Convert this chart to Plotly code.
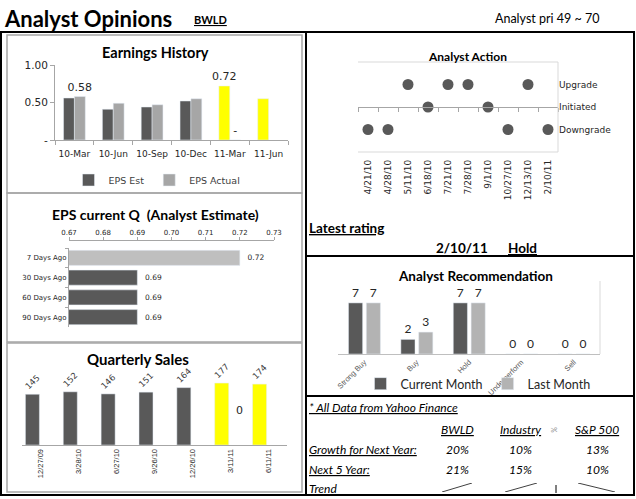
import plotly.graph_objects as go

W, H = 636, 499
def px(x): return x / W
def py(y): return 1 - y / H

# ---------------- data ----------------
eh_quarters = ['10-Mar', '10-Jun', '10-Sep', '10-Dec', '11-Mar', '11-Jun']
eh_est = [0.56, 0.41, 0.44, 0.52, 0.72, 0.55]
eh_actual = [0.58, 0.49, 0.47, 0.55, 0.0, None]
eh_forecast = [False, False, False, False, True, True]
eh_est_labels = ['', '', '', '', '0.72', '']
eh_actual_labels = ['0.58', '', '', '', '-', '']

epsq_periods = ['7 Days Ago', '30 Days Ago', '60 Days Ago', '90 Days Ago']
epsq_values = [0.72, 0.69, 0.69, 0.69]

qs_dates = ['12/27/09', '3/28/10', '6/27/10', '9/26/10', '12/26/10', '3/11/11', '6/11/11']
qs_sales = [145, 152, 146, 151, 164, 177, 174]
qs_forecast = [False, False, False, False, False, True, True]
qs_extra_label = '0'

aa_dates = ['4/21/10', '4/28/10', '5/11/10', '6/18/10', '7/21/10', '7/28/10',
            '9/1/10', '10/27/10', '12/13/10', '2/10/11']
aa_actions = ['Downgrade', 'Downgrade', 'Upgrade', 'Initiated', 'Upgrade', 'Upgrade',
              'Initiated', 'Downgrade', 'Upgrade', 'Downgrade']
aa_level_names = ['Upgrade', 'Initiated', 'Downgrade']
aa_level_values = [1, 0, -1]

rec_cats = ['Strong Buy', 'Buy', 'Hold', 'Underperform', 'Sell']
rec_current = [7, 2, 7, 0, 0]
rec_last = [7, 3, 7, 0, 0]

tbl_cols = ['BWLD', 'Industry', 'S&P 500']
growth_next_year = [20, 10, 13]
growth_next5 = [21, 15, 10]

latest_date = '2/10/11'
latest_rating = 'Hold'
ticker = 'BWLD'
price_range = 'Analyst pri 49 ~ 70'

# ---------------- styles ----------------
DARK = '#595959'
LIGHT = '#A6A6A6'
YELLOW = '#FFFF00'
AX = '#A6A6A6'
TXT = '#262626'
SANS = 'DejaVu Sans'
TITLEF = 'Lato'

fig = go.Figure()

# ---- Earnings History (x / y) ----
est_colors = [YELLOW if f else DARK for f in eh_forecast]
fig.add_trace(go.Bar(x=eh_quarters, y=eh_est, name='EPS Est', marker_color=est_colors,
                     width=0.28, offset=-0.28, text=eh_est_labels, textposition='outside',
                     constraintext='none', cliponaxis=False,
                     textfont=dict(family=SANS, size=11, color=TXT),
                     xaxis='x', yaxis='y', legend='legend'))
fig.add_trace(go.Bar(x=eh_quarters, y=eh_actual, name='EPS Actual', marker_color=LIGHT,
                     width=0.28, offset=0.0, text=eh_actual_labels, textposition='outside',
                     constraintext='none', cliponaxis=False,
                     textfont=dict(family=SANS, size=11, color=TXT),
                     xaxis='x', yaxis='y', legend='legend'))

# ---- EPS current Q (x2 / y2) ----
epsq_colors = ['#BFBFBF'] + [DARK] * (len(epsq_values) - 1)
fig.add_trace(go.Bar(y=epsq_periods, x=epsq_values, orientation='h', marker_color=epsq_colors,
                     width=0.76, offset=-0.38,
                     texttemplate='\u00a0\u00a0%{x:.2f}', textposition='outside',
                     constraintext='none', cliponaxis=True,
                     textfont=dict(family=SANS, size=7.5, color=TXT),
                     showlegend=False, xaxis='x2', yaxis='y2'))

# ---- Quarterly Sales (x3 / y3) ----
qs_colors = [YELLOW if f else DARK for f in qs_forecast]
fig.add_trace(go.Bar(x=qs_dates, y=qs_sales, marker_color=qs_colors, width=0.37, offset=-0.41,
                     text=[str(v) for v in qs_sales], textposition='outside', textangle=-45,
                     constraintext='none', cliponaxis=False,
                     textfont=dict(family=SANS, size=8.5, color='#404040'),
                     showlegend=False, xaxis='x3', yaxis='y3'))

# ---- Analyst Action (x4 / y4, x5 overlay line) ----
lvl = dict(zip(aa_level_names, aa_level_values))
fig.add_trace(go.Scatter(x=list(range(len(aa_dates))), y=[lvl[a] for a in aa_actions],
                         mode='markers', marker=dict(size=11, color=DARK),
                         showlegend=False, xaxis='x4', yaxis='y4'))
fig.add_trace(go.Scatter(x=[None], y=[None], mode='markers', showlegend=False,
                         xaxis='x5', yaxis='y4', hoverinfo='skip'))

# ---- Analyst Recommendation (x6 / y6) ----
fig.add_trace(go.Bar(x=rec_cats, y=rec_current, name='Current Month', marker_color=DARK,
                     width=0.27, offset=-0.30, text=rec_current, textposition='outside',
                     constraintext='none', cliponaxis=False,
                     textfont=dict(family=TITLEF, size=12, color=TXT),
                     xaxis='x6', yaxis='y6', legend='legend2'))
fig.add_trace(go.Bar(x=rec_cats, y=rec_last, name='Last Month', marker_color='#B3B3B3',
                     width=0.27, offset=0.04, text=rec_last, textposition='outside',
                     constraintext='none', cliponaxis=False,
                     textfont=dict(family=TITLEF, size=12, color=TXT),
                     xaxis='x6', yaxis='y6', legend='legend2'))

# ---- Trend mini lines (x7..x9) ----
trend_domains_x = [(442, 472), (505, 537), (578, 615)]
for i in range(len(tbl_cols)):
    n = 7 + i
    fig.add_trace(go.Scatter(x=[0, 1], y=[growth_next_year[i], growth_next5[i]], mode='lines',
                             line=dict(color='#404040', width=1), showlegend=False,
                             xaxis=f'x{n}', yaxis=f'y{n}', hoverinfo='skip'))

layout = dict(
    width=W, height=H, autosize=False,
    margin=dict(l=0, r=0, t=0, b=0, pad=0, autoexpand=False),
    paper_bgcolor='white', plot_bgcolor='rgba(0,0,0,0)',
    barmode='overlay', hovermode=False,
    font=dict(family=SANS, color=TXT),
)

# Earnings axes
layout['xaxis'] = dict(domain=[px(55), px(288)], anchor='y', type='category', automargin=False,
                       showline=True, linecolor=AX, ticks='outside', ticklen=4, tickcolor=AX,
                       tickson='boundaries', showgrid=False, zeroline=False, tickangle=0,
                       ticklabelstandoff=5,
                       tickfont=dict(family=SANS, size=9, color=TXT))
layout['yaxis'] = dict(domain=[py(140), py(65)], anchor='x', range=[0, 1], automargin=False,
                       tickvals=[0, 0.5, 1], ticktext=['-', '0.50', '1.00'],
                       showline=True, linecolor=AX, ticks='outside', ticklen=4, tickcolor=AX,
                       showgrid=False, zeroline=False,
                       tickfont=dict(family=SANS, size=10.5, color=TXT))

# EPS current Q axes
layout['xaxis2'] = dict(domain=[px(69), px(274)], anchor='free', position=py(240), side='top',
                        range=[0.67, 0.73], dtick=0.01, tickformat='.2f', automargin=False,
                        showline=True, linecolor=AX, ticks='outside', ticklen=3, tickcolor=AX,
                        showgrid=False, zeroline=False, tickangle=0, ticklabelstandoff=-1,
                        tickfont=dict(family=SANS, size=7, color=TXT))
layout['yaxis2'] = dict(domain=[py(327), py(248)], anchor='x2', type='category', automargin=False,
                        autorange='reversed', showline=True, linecolor=AX,
                        ticks='outside', ticklen=3, tickcolor=AX, tickson='boundaries',
                        showgrid=False, zeroline=False,
                        tickfont=dict(family=SANS, size=7, color=TXT))

# Quarterly Sales axes
layout['xaxis3'] = dict(domain=[px(22), px(287)], anchor='y3', type='category', automargin=False,
                        showline=True, linecolor=AX, ticks='', tickangle=-90,
                        showgrid=False, zeroline=False,
                        tickfont=dict(family='Liberation Sans', size=7.5, color=TXT))
layout['yaxis3'] = dict(domain=[py(445), py(375)], anchor='x3', range=[0, 200], automargin=False,
                        visible=False, showgrid=False, zeroline=False)

# Analyst Action axes
layout['xaxis4'] = dict(domain=[px(358), px(558)], anchor='y4', range=[-0.5, len(aa_dates) - 0.5],
                        tickvals=list(range(len(aa_dates))), ticktext=aa_dates, tickangle=-90,
                        showline=False, ticks='', showgrid=False, zeroline=False, automargin=False,
                        ticklabelstandoff=5,
                        tickfont=dict(family=SANS, size=9, color=TXT))
layout['yaxis4'] = dict(domain=[py(152), py(62)], anchor='x4', side='right', range=[-2, 2],
                        tickvals=aa_level_values, ticktext=aa_level_names, automargin=False,
                        showline=False, ticks='', showgrid=False, zeroline=False,
                        tickfont=dict(family=SANS, size=9, color=TXT))
layout['xaxis5'] = dict(domain=[px(358), px(558)], overlaying='x4', anchor='free', position=py(107),
                        range=[-0.5, len(aa_dates) - 0.5], automargin=False,
                        tickvals=[i - 0.5 for i in range(len(aa_dates) + 1)],
                        showticklabels=False, showline=True, linecolor=AX,
                        ticks='outside', ticklen=4, tickcolor=AX, showgrid=False, zeroline=False)

# Analyst Recommendation axes
layout['xaxis6'] = dict(domain=[px(338), px(600)], anchor='y6', type='category', automargin=False,
                        showline=True, linecolor='#BFBFBF', ticks='', tickangle=-45,
                        showgrid=False, zeroline=False,
                        tickfont=dict(family='Liberation Sans', size=7.5, color='#595959'))
layout['yaxis6'] = dict(domain=[py(354), py(281)], anchor='x6', range=[0, 10], automargin=False,
                        visible=False, showgrid=False, zeroline=False)

# Trend mini axes
for i in range(len(tbl_cols)):
    n = 7 + i
    lo, hi = min(growth_next_year[i], growth_next5[i]), max(growth_next_year[i], growth_next5[i])
    layout[f'xaxis{n}'] = dict(domain=[px(trend_domains_x[i][0]), px(trend_domains_x[i][1])],
                               anchor=f'y{n}', range=[0, 1], visible=False, automargin=False)
    layout[f'yaxis{n}'] = dict(domain=[py(492), py(483)], anchor=f'x{n}', range=[lo, hi],
                               visible=False, automargin=False)

layout['legend'] = dict(orientation='h', x=px(157), xanchor='center', y=py(180), yanchor='middle',
                        font=dict(family=SANS, size=9.5, color='#404040'),
                        bgcolor='rgba(0,0,0,0)', itemwidth=30, traceorder='normal')
layout['legend2'] = dict(orientation='h', x=px(478), xanchor='center', y=py(384), yanchor='middle',
                         font=dict(family=TITLEF, size=12.5, color=TXT),
                         bgcolor='rgba(0,0,0,0)', itemwidth=30, traceorder='normal')

fig.update_layout(**layout)

# ---------------- annotations ----------------
def note(text, x, y, size, family=TITLEF, xanchor='left', color='black', angle=0):
    fig.add_annotation(text=text, x=px(x), y=py(y), xref='paper', yref='paper',
                       xanchor=xanchor, yanchor='middle', showarrow=False, textangle=angle,
                       font=dict(family=family, size=size, color=color))

note('<b>Analyst Opinions</b>', 2, 18, 22)
note(f'<b><u>{ticker}</u></b>', 192, 19, 11)
note(price_range, 493, 18, 12.5)

note('<b>Earnings History</b>', 155, 52, 14.5, xanchor='center')
note('<b>EPS current Q  (Analyst Estimate)</b>', 155, 214, 14, xanchor='center')
note('<b>Quarterly Sales</b>', 138, 359, 15, xanchor='center')
note('<b>Analyst Action</b>', 467, 56, 12, xanchor='center')
note('<b>Analyst Recommendation</b>', 475, 276, 13.5, xanchor='center')

note('<b><u>Latest rating</u></b>', 307, 228, 13.5)
note(f'<b>{latest_date}</b>', 462, 248, 13.5, xanchor='center')
note(f'<b><u>{latest_rating}</u></b>', 522, 248, 13.5, xanchor='center')

# Quarterly sales "0" label of the empty series
fig.add_annotation(text=qs_extra_label, x=qs_dates[5], y=100, xref='x3', yref='y3',
                   xshift=9, showarrow=False, font=dict(family=SANS, size=11, color=TXT))

# table
note('<i><u>* All Data from Yahoo Finance</u></i>', 307, 407, 12)
col_x = [458, 520, 597]
for c, cx in zip(tbl_cols, col_x):
    note(f'<i><u>{c}</u></i>', cx, 429, 12, xanchor='center')
note('%', 554, 430, 7, xanchor='center', color='#808080', angle=90)
note('<i><u>Growth for Next Year:</u></i>', 307, 449, 12)
note('<i><u>Next 5 Year:</u></i>', 307, 469, 12)
note('<i>Trend</i>', 307, 488, 12)
for v, cx in zip(growth_next_year, col_x):
    note(f'<i>{v}%</i>', cx, 449, 12, xanchor='center')
for v, cx in zip(growth_next5, col_x):
    note(f'<i>{v}%</i>', cx, 469, 12, xanchor='center')

# ---------------- frame shapes ----------------
def hline(y, x0, x1, color='black', w=2):
    fig.add_shape(type='line', xref='paper', yref='paper', x0=px(x0), x1=px(x1), y0=py(y), y1=py(y),
                  line=dict(color=color, width=w))

def vline(x, y0, y1, color='black', w=2):
    fig.add_shape(type='line', xref='paper', yref='paper', x0=px(x), x1=px(x), y0=py(y0), y1=py(y1),
                  line=dict(color=color, width=w))

def box(x0, y0, x1, y1, color='#A6A6A6', w=1.5):
    fig.add_shape(type='rect', xref='paper', yref='paper', x0=px(x0), x1=px(x1), y0=py(y0), y1=py(y1),
                  line=dict(color=color, width=w))

hline(32, 0, 635)
hline(495, 0, 635)
vline(1, 32, 495)
vline(306, 32, 495)
vline(634, 32, 495)
hline(256, 306, 634)
hline(396, 306, 634)
box(7, 35, 302, 193)
box(7, 193, 302, 342)
box(7, 343, 302, 492)
vline(556, 485, 493, color='black', w=1)

# analyst action plot-area border (top, right, bottom)
for (x0, y0, x1, y1) in [(0, 1, 1, 1), (1, 0, 1, 1), (0, 0, 1, 0)]:
    fig.add_shape(type='line', xref='x4 domain', yref='y4 domain', x0=x0, y0=y0, x1=x1, y1=y1,
                  line=dict(color='#D9D9D9', width=1))
# recommendation plot-area right border
fig.add_shape(type='line', xref='x6 domain', yref='y6 domain', x0=1, y0=0, x1=1, y1=1,
              line=dict(color='#D9D9D9', width=1))

fig.write_html('out.html', config={'displayModeBar': False, 'staticPlot': True},
               post_script="document.body.style.margin='0';document.body.style.overflow='hidden';")
